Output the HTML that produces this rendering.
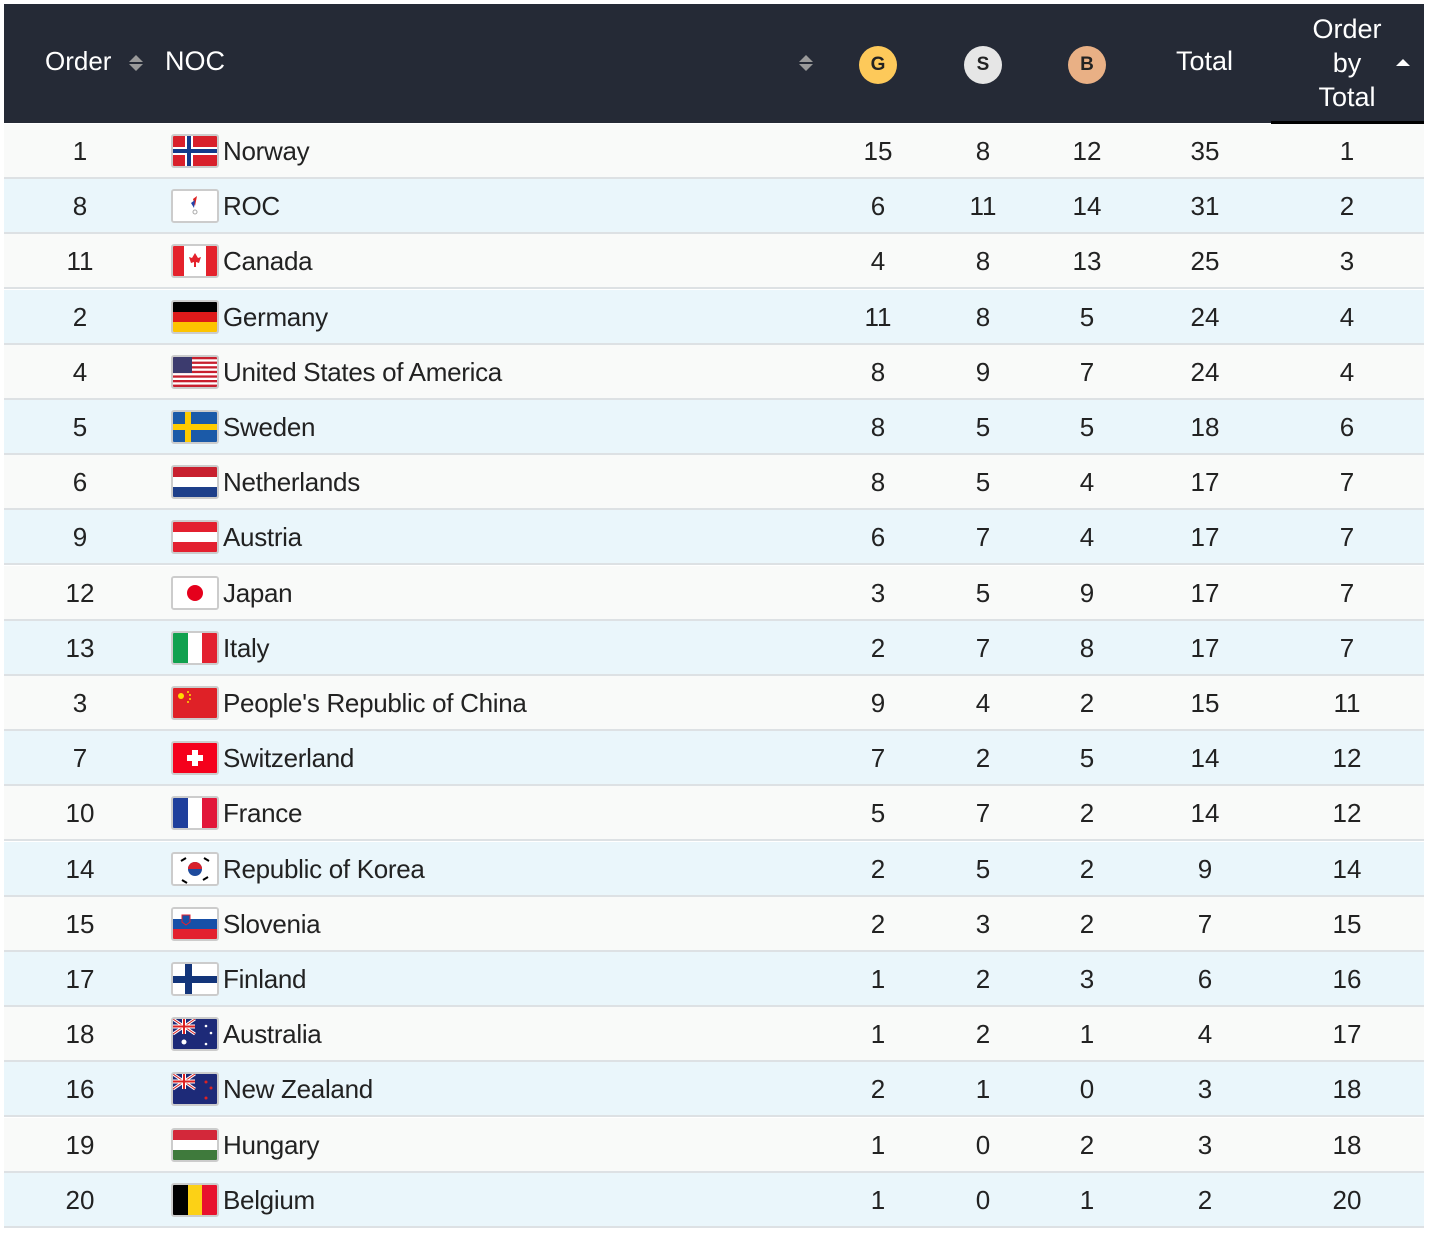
<!DOCTYPE html>
<html><head><meta charset="utf-8"><style>
body{margin:0;width:1435px;height:1234px;background:#fff;font-family:"Liberation Sans",sans-serif;position:relative;overflow:hidden}
.hd{position:absolute;left:4px;top:4px;width:1420px;height:119px;background:#252a36;color:#fff;font-size:27px}
.hd span{position:absolute}
.row{position:absolute;left:4px;width:1420px;height:53px;border-bottom:2px solid #dde1e4;font-size:26px;color:#222}
.row span{position:absolute;top:12px}
.c{transform:translateX(-50%)}
.fl{position:absolute;left:167px;top:10px;width:44px;height:30px;border:2px solid #ccc;border-radius:3px;overflow:hidden}
.fl svg{display:block}
.o{left:76px}.g{left:874px}.s{left:979px}.b{left:1083px}.t{left:1201px}.ob{left:1343px}
.n{left:219px;letter-spacing:-0.3px}
.med{position:absolute;top:42px;width:38px;height:38px;border-radius:50%;color:#222;font-size:19px;font-weight:bold;text-align:center;line-height:38px}
.sort{position:absolute;width:0;height:0}
.up{border-left:7px solid transparent;border-right:7px solid transparent;border-bottom:7px solid #9a9a9a}
.dn{border-left:7px solid transparent;border-right:7px solid transparent;border-top:7px solid #9a9a9a}
</style></head><body>
<div class="hd">
<span style="left:41px;top:42px;font-size:26px">Order</span>
<div class="sort up" style="left:125px;top:51px"></div><div class="sort dn" style="left:125px;top:60px"></div>
<span style="left:161px;top:42px">NOC</span>
<div class="sort up" style="left:795px;top:51px"></div><div class="sort dn" style="left:795px;top:60px"></div>
<div class="med" style="left:855px;background:#fdc95a">G</div>
<div class="med" style="left:960px;background:#e6e6e6">S</div>
<div class="med" style="left:1064px;background:#e9b085">B</div>
<span style="left:1172px;top:42px">Total</span>
<span style="left:1305px;top:8px;text-align:center;width:76px;line-height:34px">Order<br>by<br>Total</span>
<div class="sort" style="left:1392px;top:55px;border-left:7px solid transparent;border-right:7px solid transparent;border-bottom:7px solid #fff"></div>
</div>
<div style="position:absolute;left:1271px;top:121px;width:153px;height:4px;background:#000"></div>

<div class="row" style="top:124px;background:#f9faf9"><span class="o c">1</span><div class="fl"><svg width="44" height="30"><rect width="44" height="30" fill="#d8202b"/><rect x="12" width="8" height="30" fill="#fff"/><rect y="11" width="44" height="8" fill="#fff"/><rect x="14" width="4" height="30" fill="#123a8a"/><rect y="13" width="44" height="4" fill="#123a8a"/></svg></div><span class="n">Norway</span><span class="g c">15</span><span class="s c">8</span><span class="b c">12</span><span class="t c">35</span><span class="ob c">1</span></div>
<div class="row" style="top:179.2px;background:#eaf6fb"><span class="o c">8</span><div class="fl"><svg width="44" height="30"><rect width="44" height="30" fill="#fff"/><path d="M20 8 l4 -3 l-2 10z" fill="#d22"/><path d="M18 12 l4 -3 l-1 8z" fill="#24a"/><circle cx="22" cy="21" r="2" fill="none" stroke="#aaa"/></svg></div><span class="n">ROC</span><span class="g c">6</span><span class="s c">11</span><span class="b c">14</span><span class="t c">31</span><span class="ob c">2</span></div>
<div class="row" style="top:234.4px;background:#f9faf9"><span class="o c">11</span><div class="fl"><svg width="44" height="30"><rect width="44" height="30" fill="#fff"/><rect width="11" height="30" fill="#e4222c"/><rect x="33" width="11" height="30" fill="#e4222c"/><path d="M22 7 l3 5 l3 -1 l-2 6 l-3 -1 v5 h-2 v-5 l-3 1 l-2 -6 l3 1z" fill="#e4222c"/></svg></div><span class="n">Canada</span><span class="g c">4</span><span class="s c">8</span><span class="b c">13</span><span class="t c">25</span><span class="ob c">3</span></div>
<div class="row" style="top:289.6px;background:#eaf6fb"><span class="o c">2</span><div class="fl"><svg width="44" height="30"><rect width="44" height="10" fill="#000"/><rect y="10" width="44" height="10" fill="#dd1a1a"/><rect y="20" width="44" height="10" fill="#fdc400"/></svg></div><span class="n">Germany</span><span class="g c">11</span><span class="s c">8</span><span class="b c">5</span><span class="t c">24</span><span class="ob c">4</span></div>
<div class="row" style="top:344.8px;background:#f9faf9"><span class="o c">4</span><div class="fl"><svg width="44" height="30"><rect width="44" height="30" fill="#fff"/><g fill="#c8202f"><rect y="0" width="44" height="2.3"/><rect y="4.6" width="44" height="2.3"/><rect y="9.2" width="44" height="2.3"/><rect y="13.8" width="44" height="2.3"/><rect y="18.4" width="44" height="2.3"/><rect y="23" width="44" height="2.3"/><rect y="27.6" width="44" height="2.4"/></g><rect width="19" height="16" fill="#3c3b6e"/></svg></div><span class="n">United States of America</span><span class="g c">8</span><span class="s c">9</span><span class="b c">7</span><span class="t c">24</span><span class="ob c">4</span></div>
<div class="row" style="top:400px;background:#eaf6fb"><span class="o c">5</span><div class="fl"><svg width="44" height="30"><rect width="44" height="30" fill="#1b5aa8"/><rect x="12" width="6" height="30" fill="#fecb00"/><rect y="12" width="44" height="6" fill="#fecb00"/></svg></div><span class="n">Sweden</span><span class="g c">8</span><span class="s c">5</span><span class="b c">5</span><span class="t c">18</span><span class="ob c">6</span></div>
<div class="row" style="top:455.2px;background:#f9faf9"><span class="o c">6</span><div class="fl"><svg width="44" height="30"><rect width="44" height="10" fill="#c8202f"/><rect y="10" width="44" height="10" fill="#fff"/><rect y="20" width="44" height="10" fill="#1e3f8a"/></svg></div><span class="n">Netherlands</span><span class="g c">8</span><span class="s c">5</span><span class="b c">4</span><span class="t c">17</span><span class="ob c">7</span></div>
<div class="row" style="top:510.4px;background:#eaf6fb"><span class="o c">9</span><div class="fl"><svg width="44" height="30"><rect width="44" height="10" fill="#e3202f"/><rect y="10" width="44" height="10" fill="#fff"/><rect y="20" width="44" height="10" fill="#e3202f"/></svg></div><span class="n">Austria</span><span class="g c">6</span><span class="s c">7</span><span class="b c">4</span><span class="t c">17</span><span class="ob c">7</span></div>
<div class="row" style="top:565.6px;background:#f9faf9"><span class="o c">12</span><div class="fl"><svg width="44" height="30"><rect width="44" height="30" fill="#fff"/><circle cx="22" cy="15" r="8" fill="#e5001c"/></svg></div><span class="n">Japan</span><span class="g c">3</span><span class="s c">5</span><span class="b c">9</span><span class="t c">17</span><span class="ob c">7</span></div>
<div class="row" style="top:620.8px;background:#eaf6fb"><span class="o c">13</span><div class="fl"><svg width="44" height="30"><rect width="15" height="30" fill="#11a14f"/><rect x="15" width="14" height="30" fill="#fff"/><rect x="29" width="15" height="30" fill="#e3202f"/></svg></div><span class="n">Italy</span><span class="g c">2</span><span class="s c">7</span><span class="b c">8</span><span class="t c">17</span><span class="ob c">7</span></div>
<div class="row" style="top:676px;background:#f9faf9"><span class="o c">3</span><div class="fl"><svg width="44" height="30"><rect width="44" height="30" fill="#df2127"/><circle cx="8" cy="8" r="3" fill="#fd0"/><circle cx="15" cy="4" r="1" fill="#fd0"/><circle cx="17" cy="7" r="1" fill="#fd0"/><circle cx="17" cy="11" r="1" fill="#fd0"/><circle cx="15" cy="14" r="1" fill="#fd0"/></svg></div><span class="n">People's Republic of China</span><span class="g c">9</span><span class="s c">4</span><span class="b c">2</span><span class="t c">15</span><span class="ob c">11</span></div>
<div class="row" style="top:731.2px;background:#eaf6fb"><span class="o c">7</span><div class="fl"><svg width="44" height="30"><rect width="44" height="30" fill="#f5001c"/><rect x="19" y="7" width="6" height="16" fill="#fff"/><rect x="14" y="12" width="16" height="6" fill="#fff"/></svg></div><span class="n">Switzerland</span><span class="g c">7</span><span class="s c">2</span><span class="b c">5</span><span class="t c">14</span><span class="ob c">12</span></div>
<div class="row" style="top:786.4px;background:#f9faf9"><span class="o c">10</span><div class="fl"><svg width="44" height="30"><rect width="15" height="30" fill="#1f3f9c"/><rect x="15" width="14" height="30" fill="#fff"/><rect x="29" width="15" height="30" fill="#e2173a"/></svg></div><span class="n">France</span><span class="g c">5</span><span class="s c">7</span><span class="b c">2</span><span class="t c">14</span><span class="ob c">12</span></div>
<div class="row" style="top:841.6px;background:#eaf6fb"><span class="o c">14</span><div class="fl"><svg width="44" height="30"><rect width="44" height="30" fill="#fff"/><circle cx="22" cy="15" r="7" fill="#1d4a9c"/><path d="M15 15 a7 7 0 0 1 14 0z" fill="#d8202b"/><g stroke="#000" stroke-width="2"><path d="M8 7 l5 -3M9 26 l5 3M31 4 l5 3M30 26 l5 -3"/></g></svg></div><span class="n">Republic of Korea</span><span class="g c">2</span><span class="s c">5</span><span class="b c">2</span><span class="t c">9</span><span class="ob c">14</span></div>
<div class="row" style="top:896.8px;background:#f9faf9"><span class="o c">15</span><div class="fl"><svg width="44" height="30"><rect width="44" height="10" fill="#fff"/><rect y="10" width="44" height="10" fill="#1750a8"/><rect y="20" width="44" height="10" fill="#e3202f"/><path d="M9 6 h8 v7 l-4 3 l-4 -3z" fill="#1750a8" stroke="#e3202f"/></svg></div><span class="n">Slovenia</span><span class="g c">2</span><span class="s c">3</span><span class="b c">2</span><span class="t c">7</span><span class="ob c">15</span></div>
<div class="row" style="top:952px;background:#eaf6fb"><span class="o c">17</span><div class="fl"><svg width="44" height="30"><rect width="44" height="30" fill="#fff"/><rect x="12" width="7" height="30" fill="#13357a"/><rect y="12" width="44" height="7" fill="#13357a"/></svg></div><span class="n">Finland</span><span class="g c">1</span><span class="s c">2</span><span class="b c">3</span><span class="t c">6</span><span class="ob c">16</span></div>
<div class="row" style="top:1007.2px;background:#f9faf9"><span class="o c">18</span><div class="fl"><svg width="44" height="30"><rect width="44" height="30" fill="#1d2a78"/><path d="M0 0 L22 15 M22 0 L0 15" stroke="#fff" stroke-width="3"/><path d="M0 0 L22 15 M22 0 L0 15" stroke="#d22" stroke-width="1"/><rect x="9" width="4" height="15" fill="#fff"/><rect y="5.5" width="22" height="4" fill="#fff"/><rect x="10" width="2" height="15" fill="#d22"/><rect y="6.5" width="22" height="2" fill="#d22"/><circle cx="11" cy="23" r="2.5" fill="#fff"/><circle cx="33" cy="7" r="1.3" fill="#fff"/><circle cx="38" cy="14" r="1.3" fill="#fff"/><circle cx="33" cy="25" r="1.3" fill="#fff"/></svg></div><span class="n">Australia</span><span class="g c">1</span><span class="s c">2</span><span class="b c">1</span><span class="t c">4</span><span class="ob c">17</span></div>
<div class="row" style="top:1062.4px;background:#eaf6fb"><span class="o c">16</span><div class="fl"><svg width="44" height="30"><rect width="44" height="30" fill="#1d2a78"/><path d="M0 0 L22 15 M22 0 L0 15" stroke="#fff" stroke-width="3"/><path d="M0 0 L22 15 M22 0 L0 15" stroke="#d22" stroke-width="1"/><rect x="9" width="4" height="15" fill="#fff"/><rect y="5.5" width="22" height="4" fill="#fff"/><rect x="10" width="2" height="15" fill="#d22"/><rect y="6.5" width="22" height="2" fill="#d22"/><circle cx="33" cy="8" r="1.5" fill="#d22"/><circle cx="38" cy="14" r="1.5" fill="#d22"/><circle cx="33" cy="24" r="1.5" fill="#d22"/></svg></div><span class="n">New Zealand</span><span class="g c">2</span><span class="s c">1</span><span class="b c">0</span><span class="t c">3</span><span class="ob c">18</span></div>
<div class="row" style="top:1117.6px;background:#f9faf9"><span class="o c">19</span><div class="fl"><svg width="44" height="30"><rect width="44" height="10" fill="#d3283a"/><rect y="10" width="44" height="10" fill="#fff"/><rect y="20" width="44" height="10" fill="#3f7a3c"/></svg></div><span class="n">Hungary</span><span class="g c">1</span><span class="s c">0</span><span class="b c">2</span><span class="t c">3</span><span class="ob c">18</span></div>
<div class="row" style="top:1172.8px;background:#eaf6fb"><span class="o c">20</span><div class="fl"><svg width="44" height="30"><rect width="15" height="30" fill="#000"/><rect x="15" width="14" height="30" fill="#fcd116"/><rect x="29" width="15" height="30" fill="#e8112d"/></svg></div><span class="n">Belgium</span><span class="g c">1</span><span class="s c">0</span><span class="b c">1</span><span class="t c">2</span><span class="ob c">20</span></div>
</body></html>
